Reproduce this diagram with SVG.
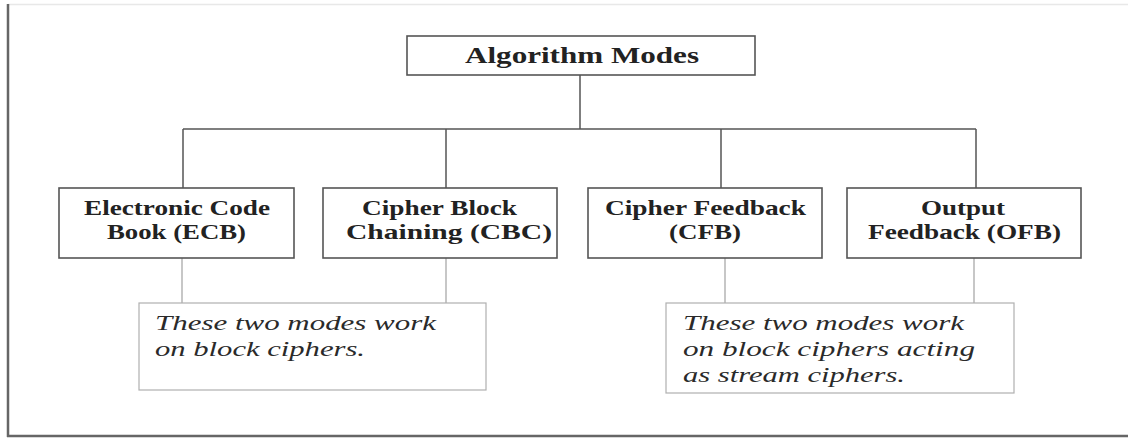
<svg xmlns="http://www.w3.org/2000/svg" width="1128" height="439" viewBox="0 0 1128 439">
<style>
.frame{stroke:#666;stroke-width:2.5;fill:none}
.box{fill:#fff;stroke:#555;stroke-width:1.6}
.note{fill:#fff;stroke:#b0b0b0;stroke-width:1.2}
.conn{stroke:#555;stroke-width:1.5;fill:none}
.conn2{stroke:#aaa;stroke-width:1.3;fill:none}
.t{font-family:"Liberation Serif","Times New Roman",serif;font-weight:bold;fill:#222}
.n{font-family:"Liberation Serif","Times New Roman",serif;font-style:italic;font-size:21px;fill:#2a2a2a}
</style>
<rect width="1128" height="439" fill="#fff"/>
<g id="frame">
<line x1="8" y1="4.5" x2="1128" y2="4.5" stroke="#e8e8e8" stroke-width="1.5"/>
<line class="frame" x1="8" y1="4" x2="8" y2="437"/>
<line class="frame" x1="7" y1="436" x2="1128" y2="436"/>
</g>
<g id="connectors">
<path class="conn" d="M580,75 V129 M183,129 H976 M183,129 V188 M446,129 V188 M721,129 V188 M976,129 V188"/>
<path class="conn2" d="M182,258 V303 M446,258 V303 M725,258 V303 M974,258 V303"/>
</g>
<g id="root">
<rect class="box" x="407" y="36" width="348" height="39"/>
<text class="t" x="465" y="63" font-size="24" textLength="234" lengthAdjust="spacingAndGlyphs">Algorithm Modes</text>
</g>
<g id="ecb">
<rect class="box" x="59" y="188" width="235" height="70"/>
<text class="t" font-size="21" x="84" y="215" textLength="186" lengthAdjust="spacingAndGlyphs">Electronic Code</text>
<text class="t" font-size="21" x="107" y="239" textLength="139" lengthAdjust="spacingAndGlyphs">Book (ECB)</text>
</g>
<g id="cbc">
<rect class="box" x="323" y="188" width="234" height="70"/>
<text class="t" font-size="21" x="362" y="215" textLength="155" lengthAdjust="spacingAndGlyphs">Cipher Block</text>
<text class="t" font-size="21" x="346" y="239" textLength="206" lengthAdjust="spacingAndGlyphs">Chaining (CBC)</text>
</g>
<g id="cfb">
<rect class="box" x="588" y="188" width="234" height="70"/>
<text class="t" font-size="21" x="605" y="215" textLength="201" lengthAdjust="spacingAndGlyphs">Cipher Feedback</text>
<text class="t" font-size="21" x="669" y="239" textLength="72" lengthAdjust="spacingAndGlyphs">(CFB)</text>
</g>
<g id="ofb">
<rect class="box" x="847" y="188" width="234" height="70"/>
<text class="t" font-size="21" x="921" y="215" textLength="84" lengthAdjust="spacingAndGlyphs">Output</text>
<text class="t" font-size="21" x="868" y="239" textLength="193" lengthAdjust="spacingAndGlyphs">Feedback (OFB)</text>
</g>
<g id="note1">
<rect class="note" x="139" y="303" width="347" height="87"/>
<text class="n" x="155" y="330" textLength="281" lengthAdjust="spacingAndGlyphs">These two modes work</text>
<text class="n" x="155" y="356" textLength="210" lengthAdjust="spacingAndGlyphs">on block ciphers.</text>
</g>
<g id="note2">
<rect class="note" x="666" y="303" width="348" height="90"/>
<text class="n" x="683" y="330" textLength="281" lengthAdjust="spacingAndGlyphs">These two modes work</text>
<text class="n" x="683" y="356" textLength="292" lengthAdjust="spacingAndGlyphs">on block ciphers acting</text>
<text class="n" x="683" y="382" textLength="222" lengthAdjust="spacingAndGlyphs">as stream ciphers.</text>
</g>
</svg>
